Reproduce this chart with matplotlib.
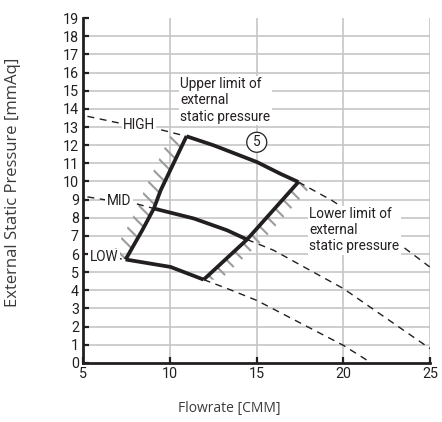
import matplotlib
matplotlib.use("Agg")
import matplotlib.pyplot as plt
import numpy as np

plt.rcParams['hatch.linewidth'] = 1.5

INK = '#231f20'
GRID = '#c6c6c6'
HATCH = '#9c9c9c'
TFONT = 'Roboto'
LFONT = 'Open Sans'

# operating range outline (flowrate CMM, static pressure mmAq)
left_x = [7.45, 8.41, 9.08, 9.47, 10.96]
left_y = [5.70, 7.31, 8.51, 9.51, 12.49]
right_x = [11.95, 14.45, 17.41]
right_y = [4.59, 6.80, 9.97]
high_x = [10.96, 12.53, 15.02, 16.36, 17.41]
high_y = [12.49, 11.99, 11.07, 10.43, 9.97]
mid_x = [9.08, 11.38, 13.30, 14.45]
mid_y = [8.51, 7.96, 7.31, 6.80]
low_x = [7.45, 10.04, 11.95]
low_y = [5.70, 5.29, 4.59]

# dashed fan curves
high_dash_x = [5.25, 7.17, 9.27, 10.96]
high_dash_y = [13.59, 13.20, 12.90, 12.49]
mid_dash_x = [5.25, 6.20, 8.03, 9.08]
mid_dash_y = [9.15, 9.00, 8.78, 8.51]
low_dash_x = [5.40, 7.45]
low_dash_y = [5.95, 5.70]
tail_high_x = [17.41, 19.33, 23.45, 24.98]
tail_high_y = [9.97, 8.96, 6.39, 5.29]
tail_mid_x = [14.45, 15.98, 18.09, 20.00, 25.00]
tail_mid_y = [6.80, 6.21, 5.10, 4.10, 0.79]
tail_low_x = [11.95, 13.30, 15.00, 20.00, 21.53]
tail_low_y = [4.59, 4.10, 3.45, 0.97, 0.05]

x_ticks = [5, 10, 15, 20, 25]
y_ticks = list(range(0, 20))

fig = plt.figure(figsize=(4.42, 4.22), dpi=100)
ax = fig.add_axes([0.188, 0.140, 0.785, 0.817])
ax.set_xlim(5, 25)
ax.set_ylim(0, 19)

ax.set_xticks(x_ticks)
ax.set_yticks(y_ticks)
ax.tick_params(direction='in', length=4, width=1.6, color=INK, labelcolor=INK, labelsize=10.3, pad=3)
for lab in ax.get_xticklabels() + ax.get_yticklabels():
    lab.set_fontfamily(TFONT)

ax.grid(True, color=GRID, linewidth=1.2, zorder=0)
ax.set_axisbelow(True)
ax.yaxis.get_gridlines()[-1].set_visible(False)
ax.yaxis.get_gridlines()[0].set_visible(False)
ax.xaxis.get_gridlines()[0].set_visible(False)

for side in ['top', 'right']:
    ax.spines[side].set_visible(False)
for side in ['left', 'bottom']:
    ax.spines[side].set_linewidth(2.0)
    ax.spines[side].set_color(INK)

# hatched strips along the left and right edges
off = 0.95
lx = np.array(left_x)
ly = np.array(left_y)
ax.fill(np.concatenate([lx, (lx - off)[::-1]]), np.concatenate([ly, ly[::-1]]),
        facecolor='none', edgecolor=HATCH, linewidth=0, hatch='\\\\', zorder=2)
rx = np.array(right_x)
ry = np.array(right_y)
ax.fill(np.concatenate([rx, (rx + off)[::-1]]), np.concatenate([ry, ry[::-1]]),
        facecolor='none', edgecolor=HATCH, linewidth=0, hatch='\\\\', zorder=2)

dash = dict(color=INK, linewidth=1.0, linestyle=(0, (5, 4)), zorder=3)
for xs, ys in [(high_dash_x, high_dash_y), (mid_dash_x, mid_dash_y), (low_dash_x, low_dash_y),
               (tail_high_x, tail_high_y), (tail_mid_x, tail_mid_y), (tail_low_x, tail_low_y)]:
    ax.plot(xs, ys, **dash)

solid = dict(color=INK, linewidth=2.7, solid_joinstyle='miter', solid_capstyle='butt', zorder=5)
for xs, ys in [(left_x, left_y), (right_x, right_y), (high_x, high_y), (mid_x, mid_y), (low_x, low_y)]:
    ax.plot(xs, ys, **solid)

white = dict(facecolor='white', edgecolor='none', pad=1.0)
txt = dict(fontfamily=TFONT, fontsize=9.8, color=INK, zorder=4)
ax.text(8.22, 13.1, 'HIGH', ha='center', va='center', bbox=white, **txt)
ax.text(7.07, 8.93, 'MID', ha='center', va='center', bbox=white, **txt)
ax.text(6.20, 5.84, 'LOW', ha='center', va='center', bbox=white, **txt)
ax.text(10.6, 14.47, 'Upper limit of\nexternal\nstatic pressure', ha='left', va='center',
        linespacing=1.2, bbox=white, **txt)
ax.text(18.05, 7.31, 'Lower limit of\nexternal\nstatic pressure', ha='left', va='center',
        linespacing=1.2, bbox=white, **txt)
ax.text(15.01, 12.16, '5', ha='center', va='center', fontfamily=TFONT, fontsize=9.8, color=INK,
        zorder=6, bbox=dict(boxstyle='circle,pad=0.22', facecolor='white', edgecolor=INK, linewidth=0.9))

ax.set_xlabel('Flowrate [CMM]', fontfamily=LFONT, fontsize=10, color='#3a3a3a')
ax.set_ylabel('External Static Pressure [mmAq]', fontfamily=LFONT, fontsize=12, color='#3a3a3a')
ax.xaxis.set_label_coords(0.42, -0.11)
ax.yaxis.set_label_coords(-0.18, 0.525)

fig.savefig('out.png', dpi=100)
